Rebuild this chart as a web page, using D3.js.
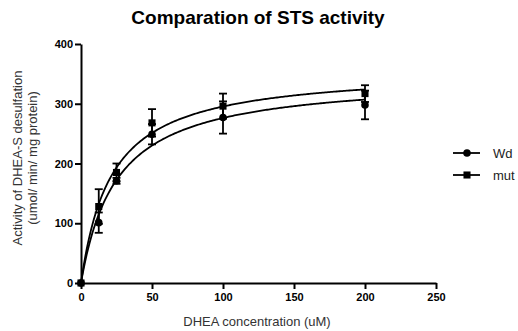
<!DOCTYPE html>
<html>
<head>
<meta charset="utf-8">
<script src="https://cdn.jsdelivr.net/npm/d3@7"></script>
<style>
  body { margin: 0; background: #fff; }
  text { font-family: "Liberation Sans", Arial, sans-serif; }
</style>
</head>
<body>
<div id="chart"></div>
<script>
// Data
var conc = [0, 12.5, 25, 50, 100, 200];
var wdMean = [0, 101, 171, 249, 277, 298];
var wdErr = [0, 17, 5, 17, 27, 24];
var mutMean = [0, 128, 185, 268, 296, 317];
var mutErr = [0, 29, 15, 23, 21, 14];
var xTicks = [0, 50, 100, 150, 200, 250];
var yTicks = [0, 100, 200, 300, 400];

var svgWidth = 518;
var svgHeight = 331;

var svg = d3.select("#chart")
  .append("svg")
  .attr("width", svgWidth)
  .attr("height", svgHeight);

var xScale = d3.scaleLinear().domain([0, 250]).range([81, 436]);
var yScale = d3.scaleLinear().domain([0, 400]).range([283, 44]);

// Title
svg.append("text")
  .attr("x", 258)
  .attr("y", 24)
  .attr("text-anchor", "middle")
  .attr("font-family", "'DejaVu Sans', sans-serif")
  .attr("font-size", 19)
  .attr("font-weight", "bold")
  .attr("fill", "#000")
  .text("Comparation of STS activity");

// Axes
var bottomAxis = d3.axisBottom(xScale).tickValues(xTicks).tickSize(6).tickSizeOuter(0).tickPadding(4);
var leftAxis = d3.axisLeft(yScale).tickValues(yTicks).tickSize(6).tickSizeOuter(0).tickPadding(2);

var gx = svg.append("g")
  .attr("transform", "translate(0," + yScale(0) + ")")
  .call(bottomAxis);
var gy = svg.append("g")
  .attr("transform", "translate(" + xScale(0) + ",0)")
  .call(leftAxis);

[gx, gy].forEach(function(g) {
  g.select(".domain").attr("stroke", "#000").attr("stroke-width", 2);
  g.selectAll(".tick line").attr("stroke", "#000").attr("stroke-width", 2);
  g.selectAll(".tick text")
    .attr("font-family", "'DejaVu Sans', sans-serif")
    .attr("font-size", 11)
    .attr("font-weight", "bold")
    .attr("fill", "#000");
});

// Axis labels
svg.append("text")
  .attr("x", 257)
  .attr("y", 326)
  .attr("text-anchor", "middle")
  .attr("font-size", 13)
  .attr("fill", "#333")
  .text("DHEA concentration (uM)");

var yLab = svg.append("text")
  .attr("transform", "translate(22,158) rotate(-90)")
  .attr("text-anchor", "middle")
  .attr("font-size", 13)
  .attr("fill", "#333");
yLab.append("tspan").attr("x", 0).attr("dy", 0).text("Activity of DHEA-S desulfation");
yLab.append("tspan").attr("x", 0).attr("dy", 15).text("(umol/ min/ mg protein)");

// Michaelis-Menten fit (least squares on the means)
function fitMM(xs, ys) {
  var best = null;
  for (var km = 0.5; km <= 200; km += 0.1) {
    var sfy = 0, sff = 0;
    xs.forEach(function(x, i) {
      var f = x / (km + x);
      sfy += f * ys[i];
      sff += f * f;
    });
    var vmax = sfy / sff;
    var sse = 0;
    xs.forEach(function(x, i) {
      var r = ys[i] - vmax * x / (km + x);
      sse += r * r;
    });
    if (!best || sse < best.sse) best = { km: km, vmax: vmax, sse: sse };
  }
  return best;
}

var series = [
  { name: "Wd", mean: wdMean, err: wdErr, shape: d3.symbolCircle },
  { name: "mut", mean: mutMean, err: mutErr, shape: d3.symbolSquare }
];

var line = d3.line()
  .x(function(d) { return xScale(d[0]); })
  .y(function(d) { return yScale(d[1]); });

series.forEach(function(s) {
  var fit = fitMM(conc, s.mean);
  var pts = d3.range(0, 200.01, 1).map(function(x) {
    return [x, fit.vmax * x / (fit.km + x)];
  });
  svg.append("path")
    .attr("d", line(pts))
    .attr("fill", "none")
    .attr("stroke", "#000")
    .attr("stroke-width", 1.8);
});

series.forEach(function(s) {
  var g = svg.append("g");
  conc.forEach(function(x, i) {
    var cx = xScale(x);
    var y1 = yScale(s.mean[i] - s.err[i]);
    var y2 = yScale(s.mean[i] + s.err[i]);
    if (s.err[i] > 0) {
      g.append("line").attr("x1", cx).attr("x2", cx).attr("y1", y1).attr("y2", y2)
        .attr("stroke", "#000").attr("stroke-width", 1.8);
      [y1, y2].forEach(function(yy) {
        g.append("line").attr("x1", cx - 4).attr("x2", cx + 4).attr("y1", yy).attr("y2", yy)
          .attr("stroke", "#000").attr("stroke-width", 1.8);
      });
    }
  });
  g.selectAll("path.mark")
    .data(conc)
    .enter()
    .append("path")
    .attr("class", "mark")
    .attr("d", d3.symbol().type(s.shape).size(s.shape === d3.symbolSquare ? 50 : 45))
    .attr("transform", function(d, i) {
      return "translate(" + xScale(d) + "," + yScale(s.mean[i]) + ")";
    })
    .attr("fill", "#000");
});

// Legend
series.forEach(function(s, i) {
  var ly = 153 + i * 22;
  svg.append("line").attr("x1", 453).attr("x2", 480).attr("y1", ly).attr("y2", ly)
    .attr("stroke", "#000").attr("stroke-width", 1.8);
  svg.append("path")
    .attr("d", d3.symbol().type(s.shape).size(s.shape === d3.symbolSquare ? 50 : 45))
    .attr("transform", "translate(467," + ly + ")")
    .attr("fill", "#000");
  svg.append("text")
    .attr("x", 493)
    .attr("y", ly + 4.5)
    .attr("font-size", 13)
    .attr("fill", "#222")
    .text(s.name);
});
</script>
</body>
</html>
